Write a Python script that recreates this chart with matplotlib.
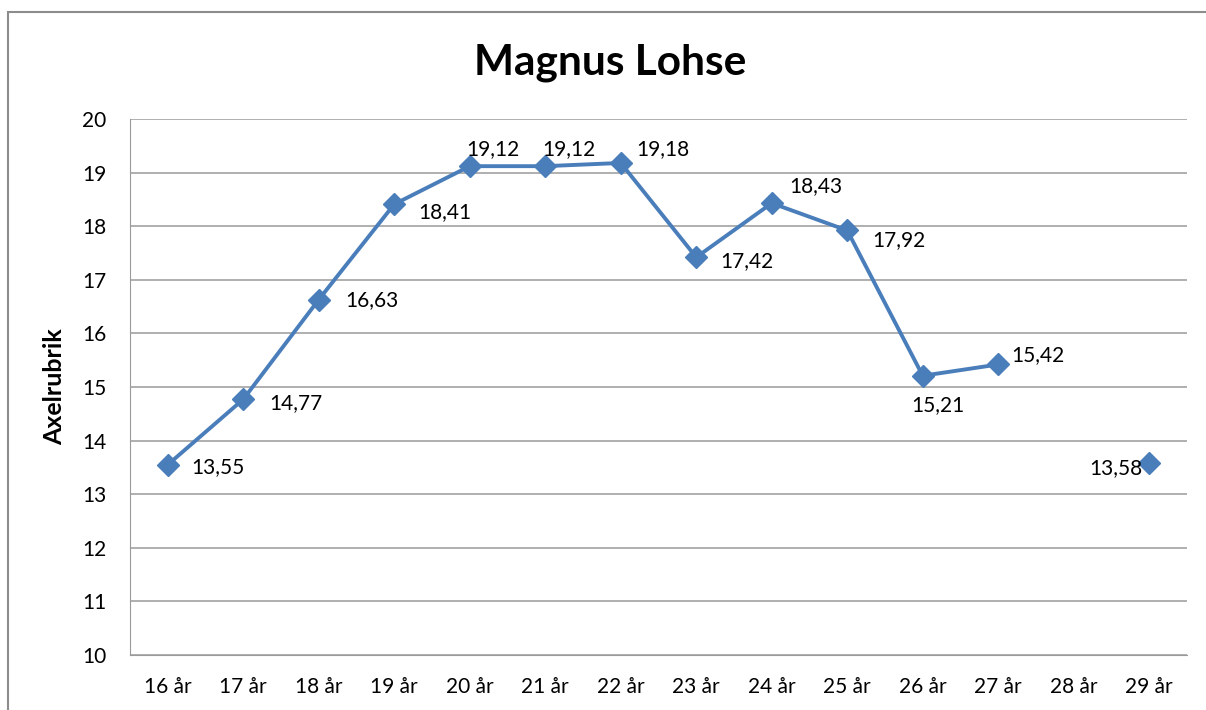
import numpy as np
import matplotlib
matplotlib.use('Agg')
import matplotlib.pyplot as plt
from matplotlib.patches import Rectangle

plt.rcParams['font.family'] = ['Lato', 'DejaVu Sans']

# data
ages = ['16 år', '17 år', '18 år', '19 år', '20 år', '21 år', '22 år',
        '23 år', '24 år', '25 år', '26 år', '27 år', '28 år', '29 år']
values = [13.55, 14.77, 16.63, 18.41, 19.12, 19.12, 19.18,
          17.42, 18.43, 17.92, 15.21, 15.42, np.nan, 13.58]
value_labels = ['13,55', '14,77', '16,63', '18,41', '19,12', '19,12', '19,18',
                '17,42', '18,43', '17,92', '15,21', '15,42', '', '13,58']

# label offsets (pixels) and alignment per label
offsets = [(24, -2), (26, -4), (27, 0), (24, -8), (-3, 17), (-3, 17), (16, 14),
           (24, -4), (18, 17), (25, -10), (-11, -29), (13, 9), (0, 0), (-7, -5)]
has = ['left'] * 13 + ['right']

fig = plt.figure(figsize=(12.06, 7.10), dpi=100)
fig.patches.append(Rectangle((8 / 1206, -0.05), 1.1, 1.05 - 12 / 710,
                             transform=fig.transFigure, fill=False,
                             edgecolor='#8c8c8c', linewidth=1.5))
ax = fig.add_axes([130 / 1206, 1 - 655 / 710, (1187 - 130) / 1206, (655 - 119) / 710])

x = np.arange(len(ages))
ax.plot(x, values, color='#4a7ebb', linewidth=2.8, marker='D', markersize=11,
        markeredgecolor='#4a7ebb', markerfacecolor='#4a7ebb', zorder=3)

for xi, v, lab, off, ha in zip(x, values, value_labels, offsets, has):
    if np.isnan(v):
        continue
    ax.annotate(lab, (xi, v), xytext=off, textcoords='offset pixels',
                ha=ha, va='center', fontsize=15, color='black')

ax.set_xlim(-0.5, len(ages) - 0.5)
ax.set_ylim(10, 20)
ax.set_yticks(np.arange(10, 21, 1))
ax.set_xticks(x)
ax.set_xticklabels(ages)
ax.tick_params(axis='both', labelsize=15, length=0, colors='black')
ax.tick_params(axis='x', pad=16)
ax.tick_params(axis='y', pad=17)
ax.yaxis.grid(True, color='#9a9a9a', linewidth=1.1)
ax.set_axisbelow(True)
for s in ['top', 'right']:
    ax.spines[s].set_visible(False)
ax.spines['left'].set_color('#9a9a9a')
ax.spines['bottom'].set_color('#9a9a9a')

ax.set_ylabel('Axelrubrik', fontsize=18, fontweight='bold')
ax.yaxis.set_label_coords(-0.0605, 0.5)
fig.text(610 / 1206, 1 - 75 / 710, 'Magnus Lohse', ha='center', va='baseline',
         fontsize=30.5, fontweight='bold')

fig.savefig('out.png', dpi=100)
